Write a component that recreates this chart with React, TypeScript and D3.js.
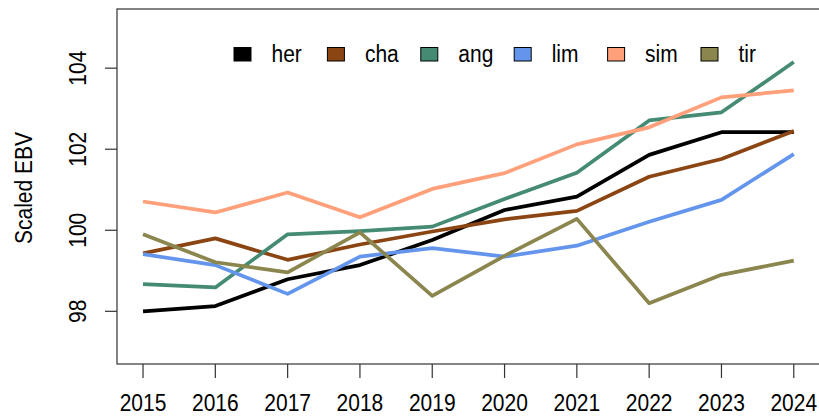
import React from "react";
import * as d3 from "d3";

const years = [2015, 2016, 2017, 2018, 2019, 2020, 2021, 2022, 2023, 2024];
const her = [98.0, 98.13, 98.79, 99.14, 99.76, 100.5, 100.83, 101.86, 102.42, 102.42];
const cha = [99.43, 99.8, 99.27, 99.65, 99.97, 100.27, 100.48, 101.32, 101.76, 102.45];
const ang = [98.67, 98.59, 99.9, 99.98, 100.09, 100.77, 101.42, 102.71, 102.91, 104.15];
const lim = [99.41, 99.14, 98.43, 99.35, 99.56, 99.35, 99.62, 100.21, 100.75, 101.88];
const sim = [100.71, 100.44, 100.93, 100.32, 101.02, 101.41, 102.12, 102.54, 103.28, 103.45];
const tir = [99.9, 99.21, 98.96, 99.95, 98.38, 99.37, 100.28, 98.2, 98.9, 99.25];

const seriesNames = ["her", "cha", "ang", "lim", "sim", "tir"];
const seriesValues = [her, cha, ang, lim, sim, tir];
const seriesColors = ["#000000", "#8B4513", "#458B74", "#6495ED", "#FFA07A", "#8B864E"];
const yTicks = [98, 100, 102, 104];

export default function App() {
  const W = 819, H = 416;
  const left = 117, top = 9, bottom = 364;
  const x = d3.scaleLinear().domain([2015 - 0.36, 2024 + 0.36]).range([left, 819.8]);
  const y = d3.scaleLinear().domain([96.7, 105.46]).range([bottom, top]);
  const line = d3.line<number>().x((_, i) => x(years[i])).y((v) => y(v));
  const font = "'Liberation Sans', Arial, Helvetica, sans-serif";
  const fs = 21;
  const sy = 1.1;

  return (
    <svg width={W} height={H} style={{ position: "absolute", left: 0, top: 0 }} fontFamily={font}>
      <rect x={0} y={0} width={W} height={H} fill="#fff" />
      <defs>
        <clipPath id="plotclip">
          <rect x={left} y={top} width={W - left} height={bottom - top} />
        </clipPath>
      </defs>
      <g clipPath="url(#plotclip)">
        {seriesValues.map((vals, k) => (
          <path key={k} d={line(vals) || ""} fill="none" stroke={seriesColors[k]} strokeWidth={3.7} strokeLinejoin="round" strokeLinecap="butt" />
        ))}
      </g>
      <rect x={left} y={top} width={819.8 - left} height={bottom - top} fill="none" stroke="#333" strokeWidth={1.2} />
      {years.map((yr) => (
        <g key={yr}>
          <line x1={x(yr)} x2={x(yr)} y1={bottom} y2={bottom + 14} stroke="#333" strokeWidth={1.2} />
          <text transform={`translate(${x(yr)},410.5) scale(1,${sy})`} fontSize={fs} textAnchor="middle" fill="#000">{yr}</text>
        </g>
      ))}
      {yTicks.map((t) => (
        <g key={t}>
          <line x1={left - 12} x2={left} y1={y(t)} y2={y(t)} stroke="#333" strokeWidth={1.2} />
          <text transform={`translate(86,${y(t)}) rotate(-90) scale(1,${sy})`} fontSize={fs} textAnchor="middle" fill="#000">{t}</text>
        </g>
      ))}
      <text transform={`translate(31.5,188) rotate(-90) scale(1,${sy})`} fontSize={fs} textAnchor="middle" fill="#000">Scaled EBV</text>
      {seriesNames.map((n, k) => {
        const lx = 234 + k * 93.4;
        return (
          <g key={n}>
            <rect x={lx} y={47.5} width={17} height={13.5} fill={seriesColors[k]} stroke="#000" strokeWidth={1} />
            <text transform={`translate(${lx + 37.5},62) scale(1,${sy})`} fontSize={fs} fill="#000">{n}</text>
          </g>
        );
      })}
    </svg>
  );
}
